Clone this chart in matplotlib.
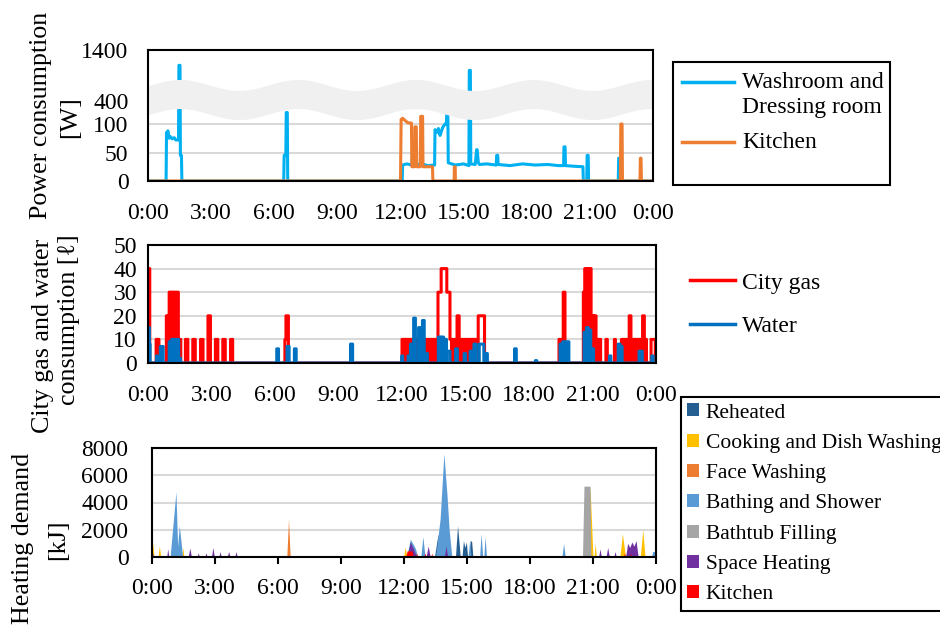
import numpy as np
import matplotlib
matplotlib.use("Agg")
import matplotlib.pyplot as plt
from matplotlib.patches import Patch, Rectangle
from matplotlib.lines import Line2D

# ---- data (hours of day, values) ----
hour_ticks = [0, 3, 6, 9, 12, 15, 18, 21, 24]
hour_labels = ["0:00", "3:00", "6:00", "9:00", "12:00", "15:00", "18:00", "21:00", "0:00"]

# power consumption [W], (hour, value)
washroom = [(0, 0), (0.86, 0), (0.88, 85), (0.95, 88), (1.00, 75), (1.06, 78), (1.15, 74), (1.25, 76),
            (1.32, 72), (1.45, 72), (1.47, 1100), (1.52, 1100), (1.54, 45), (1.59, 45), (1.61, 0),
            (6.45, 0), (6.47, 45), (6.55, 45), (6.57, 250), (6.62, 250), (6.64, 0),
            (12.08, 0), (12.10, 28), (12.30, 30), (12.55, 28), (12.57, 62), (12.62, 62), (12.64, 28),
            (13.00, 30), (13.30, 27), (13.62, 28), (13.64, 90), (13.72, 85), (13.80, 92), (13.88, 80),
            (13.95, 88), (14.02, 95), (14.12, 100), (14.18, 100), (14.20, 240), (14.25, 240), (14.27, 32),
            (14.60, 28), (15.00, 30), (15.25, 27), (15.27, 1000), (15.32, 1000), (15.34, 30), (15.55, 29),
            (15.62, 55), (15.64, 55), (15.70, 32), (15.75, 29), (16.10, 30), (16.55, 28), (16.57, 45),
            (16.62, 45), (16.64, 29), (17.20, 27), (17.80, 30), (18.40, 28), (19.00, 29), (19.50, 27),
            (19.75, 27), (19.77, 60), (19.82, 60), (19.84, 27), (20.20, 26), (20.67, 25), (20.69, 0),
            (20.85, 0), (20.87, 45), (20.92, 45), (20.94, 0), (22.35, 0), (22.37, 40), (22.42, 40),
            (22.44, 0), (24, 0)]
kitchen_power = [(0, 0), (12.00, 0), (12.03, 160), (12.10, 175), (12.20, 150), (12.35, 115), (12.52, 112),
                 (12.54, 25), (12.66, 25), (12.68, 95), (12.75, 95), (12.77, 25), (12.94, 25), (12.96, 200),
                 (13.05, 200), (13.07, 25), (13.52, 25), (13.54, 0), (14.55, 0), (14.56, 25), (14.60, 25),
                 (14.61, 0), (22.45, 0), (22.47, 100), (22.53, 100), (22.55, 0), (23.38, 0), (23.40, 40),
                 (23.43, 40), (23.45, 0), (24, 0)]

# city gas / water [l], pulses (start hour, end hour, level)
gas_pulses = [(0.00, 0.08, 40), (0.38, 0.52, 10), (0.86, 0.95, 20), (1.00, 1.08, 30), (1.12, 1.20, 30),
              (1.24, 1.32, 30), (1.36, 1.43, 30), (1.46, 1.55, 10), (1.77, 1.88, 10), (2.12, 2.24, 10),
              (2.48, 2.60, 10), (2.83, 2.95, 20), (3.19, 3.30, 10), (3.54, 3.65, 10), (3.90, 4.00, 10),
              (6.47, 6.52, 10), (6.52, 6.64, 20), (13.70, 13.85, 30), (13.85, 14.12, 40), (14.12, 14.27, 30),
              (14.60, 14.70, 20), (15.60, 15.90, 20), (19.41, 19.53, 10), (19.62, 19.70, 30),
              (20.56, 20.62, 30), (20.64, 20.72, 40), (20.76, 20.84, 40), (20.86, 20.93, 40),
              (20.97, 21.05, 20), (21.08, 21.16, 20), (21.27, 21.38, 10), (21.64, 21.70, 10),
              (22.03, 22.09, 10), (22.74, 22.82, 20), (23.37, 23.45, 20), (23.76, 23.96, 10)]
# periods of rapid on/off gas use at the 10 l level
gas_busy = [(12.00, 13.70, 10), (14.27, 14.75, 10), (14.80, 15.50, 10), (22.37, 23.55, 10)]
water_pulses = [(0.00, 0.06, 15), (0.06, 0.10, 8), (0.40, 0.45, 3), (0.58, 0.72, 7), (1.00, 1.10, 9),
                (1.12, 1.20, 10), (1.24, 1.33, 10), (1.36, 1.45, 10), (1.50, 1.54, 2), (6.08, 6.16, 6),
                (6.56, 6.66, 7), (6.92, 7.00, 6), (9.56, 9.66, 8), (11.98, 12.04, 3), (12.28, 12.33, 3),
                (12.40, 12.50, 8), (12.55, 12.64, 19), (12.78, 12.88, 15), (12.96, 13.05, 18),
                (13.15, 13.20, 4), (13.72, 13.82, 11), (13.86, 13.96, 11), (14.00, 14.10, 10),
                (14.12, 14.27, 5), (14.54, 14.62, 6), (14.94, 15.00, 4), (15.22, 15.30, 5), (15.40, 15.50, 8),
                (15.65, 15.86, 8), (15.98, 16.04, 4), (17.32, 17.40, 6), (18.30, 18.36, 1),
                (19.46, 19.55, 8), (19.60, 19.70, 9), (19.78, 19.88, 9), (20.60, 20.68, 13),
                (20.72, 20.80, 15), (20.84, 20.92, 14), (20.95, 21.05, 6), (21.80, 21.86, 3),
                (22.22, 22.30, 8), (22.33, 22.40, 7), (23.20, 23.35, 5), (23.80, 23.86, 3)]

# heating demand [kJ], (hour, value)
reheated = [(13.45, 0), (13.58, 1300), (13.68, 1900), (13.80, 1200), (13.90, 0), (14.45, 0), (14.55, 2300),
            (14.68, 0), (14.76, 0), (14.83, 1200), (14.90, 700), (14.97, 1100), (15.03, 0), (15.10, 0),
            (15.15, 1200), (15.22, 1150), (15.28, 0)]
cooking = [(0.00, 1500), (0.10, 0), (0.28, 0), (0.35, 800), (0.42, 0), (1.42, 0), (1.47, 700), (1.52, 0),
           (11.98, 0), (12.05, 700), (12.15, 0), (20.60, 0), (20.86, 5100), (21.00, 0), (21.05, 0),
           (21.10, 1000), (21.16, 0), (22.28, 0), (22.40, 1700), (22.55, 0), (23.25, 0), (23.37, 2000),
           (23.48, 0)]
face_washing = [(6.42, 0), (6.50, 2800), (6.58, 0)]
bathing = [(0.86, 0), (1.14, 4800), (1.22, 800), (1.30, 2300), (1.46, 0), (12.12, 0), (12.30, 1300),
           (12.45, 900), (12.55, 600), (12.65, 0), (12.80, 0), (12.90, 1500), (13.00, 0), (13.50, 0),
           (13.72, 2800), (13.90, 7600), (14.05, 4500), (14.15, 2000), (14.28, 0), (15.05, 0), (15.12, 1100),
           (15.20, 0), (15.60, 0), (15.67, 1700), (15.75, 0), (15.80, 0), (15.86, 1500), (15.93, 0),
           (19.52, 0), (19.60, 1000), (19.68, 0), (23.78, 0), (23.84, 400), (24.00, 400)]
bathtub = [(20.50, 0), (20.57, 5200), (20.86, 5200), (20.90, 0)]
space_heating = [(0.02, 0), (0.05, 300), (0.08, 0), (0.70, 0), (0.75, 600), (0.80, 0), (1.72, 0), (1.80, 650),
                 (1.88, 0), (2.15, 0), (2.20, 300), (2.26, 0), (2.51, 0), (2.57, 300), (2.63, 0), (2.83, 0),
                 (2.90, 700), (2.97, 0), (3.18, 0), (3.24, 400), (3.30, 0), (3.58, 0), (3.65, 400), (3.72, 0),
                 (3.94, 0), (4.00, 400), (4.06, 0), (12.15, 0), (12.30, 1100), (12.45, 600), (12.60, 0),
                 (13.05, 0), (13.15, 800), (13.25, 0), (13.92, 0), (14.00, 800), (14.08, 0), (21.27, 0),
                 (21.33, 600), (21.40, 0), (21.62, 0), (21.70, 700), (21.78, 0), (21.99, 0), (22.05, 400),
                 (22.11, 0), (22.55, 0), (22.65, 1000), (22.75, 700), (22.85, 1100), (22.95, 800),
                 (23.05, 1200), (23.15, 0)]
kitchen_heat = [(12.08, 0), (12.15, 450), (12.38, 450), (12.45, 0), (12.55, 0), (12.60, 300), (12.65, 0),
                (12.95, 0), (13.00, 300), (13.05, 0), (13.28, 0), (13.32, 300), (13.36, 0), (22.45, 0),
                (22.50, 300), (22.55, 0), (22.75, 0), (22.80, 250), (22.85, 0)]

heat_series = [("Reheated", "#255e91", reheated),
               ("Cooking and Dish Washing", "#ffc000", cooking),
               ("Face Washing", "#ed7d31", face_washing),
               ("Bathing and Shower", "#5b9bd5", bathing),
               ("Bathtub Filling", "#a5a5a5", bathtub),
               ("Space Heating", "#7030a0", space_heating),
               ("Kitchen", "#ff0000", kitchen_heat)]


def minute_levels(pulses):
    level = np.zeros(24 * 60 + 1)
    for start, end, val in pulses:
        i0, i1 = int(round(start * 60)), int(round(end * 60))
        level[i0:i1] = np.maximum(level[i0:i1], val)
    return level


def fx(px):
    return px / 940


def fy(py):
    return 1 - py / 625


plt.rcParams['font.family'] = ['Liberation Serif', 'DejaVu Serif']
fig = plt.figure(figsize=(9.4, 6.25), dpi=100)
grid_kw = dict(color="#d9d9d9", lw=1.5)
TICK_FS = 17


def style(ax):
    for s in ax.spines.values():
        s.set_linewidth(1.5)
        s.set_color("black")
    ax.set_xlim(0, 24)
    ax.set_xticks(hour_ticks)
    ax.set_xticklabels(hour_labels)
    ax.yaxis.grid(True, **grid_kw)
    ax.set_axisbelow(True)


# ---- panel 1: power ----
ax1 = fig.add_axes([fx(148), fy(181), fx(653) - fx(148), fy(50) - fy(181)])
brk_in, brk_out = [0, 100, 400, 1400], [0, 57, 80, 131]
ax1.set_yscale("function", functions=(lambda y: np.interp(y, brk_in, brk_out),
                                      lambda y: np.interp(y, brk_out, brk_in)))
t, v = zip(*washroom)
ax1.plot(t, v, color="#00b0f0", lw=2.2, zorder=2)
t, v = zip(*kitchen_power)
ax1.plot(t, v, color="#ed7d31", lw=2.2, zorder=2.1)
# wavy band marking the broken axis
hx = np.linspace(0, 24, 400)
wave = 0.042 * np.cos(2 * np.pi * (hx - 1.52) / 5.6)
ax1.fill_between(hx, 0.622 - 0.111 + wave, 0.622 + 0.111 + wave, transform=ax1.get_xaxis_transform(),
                 color="#f0f0f0", lw=0, zorder=2.4)
style(ax1)
ax1.set_ylim(0, 1400)
ax1.set_yticks([0, 50, 100, 400, 1400])
ax1.set_yticklabels(["0", "50", "100", "400", "1400"])
ax1.tick_params(axis="both", length=0, labelsize=TICK_FS)
ax1.tick_params(axis="y", pad=14)
ax1.tick_params(axis="x", pad=16)

# ---- panel 2: city gas and water ----
ax2 = fig.add_axes([fx(148), fy(363), fx(656) - fx(148), fy(245) - fy(363)])
minutes = np.arange(24 * 60 + 1) / 60
gas = minute_levels(gas_pulses + gas_busy)
water = minute_levels(water_pulses)
for s, e, lv in gas_busy:
    ax2.fill_between([s, e], 0, lv, color="#ff0000", lw=0, zorder=2)
ax2.plot(minutes, gas, drawstyle="steps-post", color="#ff0000", lw=2.2, zorder=2)
ax2.plot(minutes, water, drawstyle="steps-post", color="#0070c0", lw=2.2, zorder=2.1)
style(ax2)
ax2.set_ylim(0, 50)
ax2.set_yticks(range(0, 51, 10))
ax2.tick_params(axis="both", length=0, labelsize=TICK_FS)
ax2.tick_params(axis="y", pad=8)
ax2.tick_params(axis="x", pad=16)

# ---- panel 3: heating demand ----
ax3 = fig.add_axes([fx(152), fy(557), fx(656) - fx(152), fy(448) - fy(557)])
for name, color, pts in heat_series:
    t, v = zip(*pts)
    ax3.fill_between(t, 0, v, color=color, lw=0, zorder=2)
style(ax3)
ax3.set_ylim(0, 8000)
ax3.set_yticks(range(0, 8001, 2000))
ax3.tick_params(axis="y", length=0, labelsize=TICK_FS, pad=17)
ax3.tick_params(axis="x", direction="out", length=5, width=1.5, labelsize=TICK_FS, pad=10)

# ---- axis titles ----
lab = dict(rotation=90, ha="center", va="center", fontsize=18.7)
fig.text(fx(41), fy(115), "Power consumption", **lab)
fig.text(fx(70), fy(117), "[W]", **lab)
fig.text(fx(43), fy(336), "City gas and water", **lab)
fig.text(fx(69), fy(320), "consumption [ℓ]", **lab)
fig.text(fx(23), fy(538), "Heating demand", **lab)
fig.text(fx(58), fy(540), "[kJ]", **lab)

# ---- legends ----
fig.add_artist(Rectangle((fx(673), fy(185)), fx(890) - fx(673), fy(62) - fy(185),
                         transform=fig.transFigure, fill=False, ec="black", lw=1.5))
for y, c in [(82, "#00b0f0"), (142, "#ed7d31")]:
    fig.add_artist(Line2D([fx(682), fx(734)], [fy(y), fy(y)], transform=fig.transFigure, color=c, lw=2.5))
for y, s in [(82, "Washroom and"), (108, "Dressing room"), (142, "Kitchen")]:
    fig.text(fx(742), fy(y), s, va="center", ha="left", fontsize=17)

fig.legend(handles=[Line2D([], [], color="#ff0000", lw=2.5, label="City gas"),
                    Line2D([], [], color="#0070c0", lw=2.5, label="Water")],
           loc="upper left", bbox_to_anchor=(fx(690), fy(272)), frameon=False, handlelength=1.9,
           handletextpad=0.3, labelspacing=0.92, fontsize=17, borderpad=0, borderaxespad=0)

leg = fig.legend(handles=[Patch(facecolor=c, label=n) for n, c, _ in heat_series],
                 loc="upper left", bbox_to_anchor=(fx(681), fy(397)), frameon=True, fancybox=False,
                 edgecolor="black", framealpha=1, handlelength=0.55, handleheight=0.55,
                 handletextpad=0.3, labelspacing=0.52, borderpad=0.3, fontsize=15.5, borderaxespad=0)
leg.get_frame().set_linewidth(1.5)

fig.savefig("out.png", dpi=100)
